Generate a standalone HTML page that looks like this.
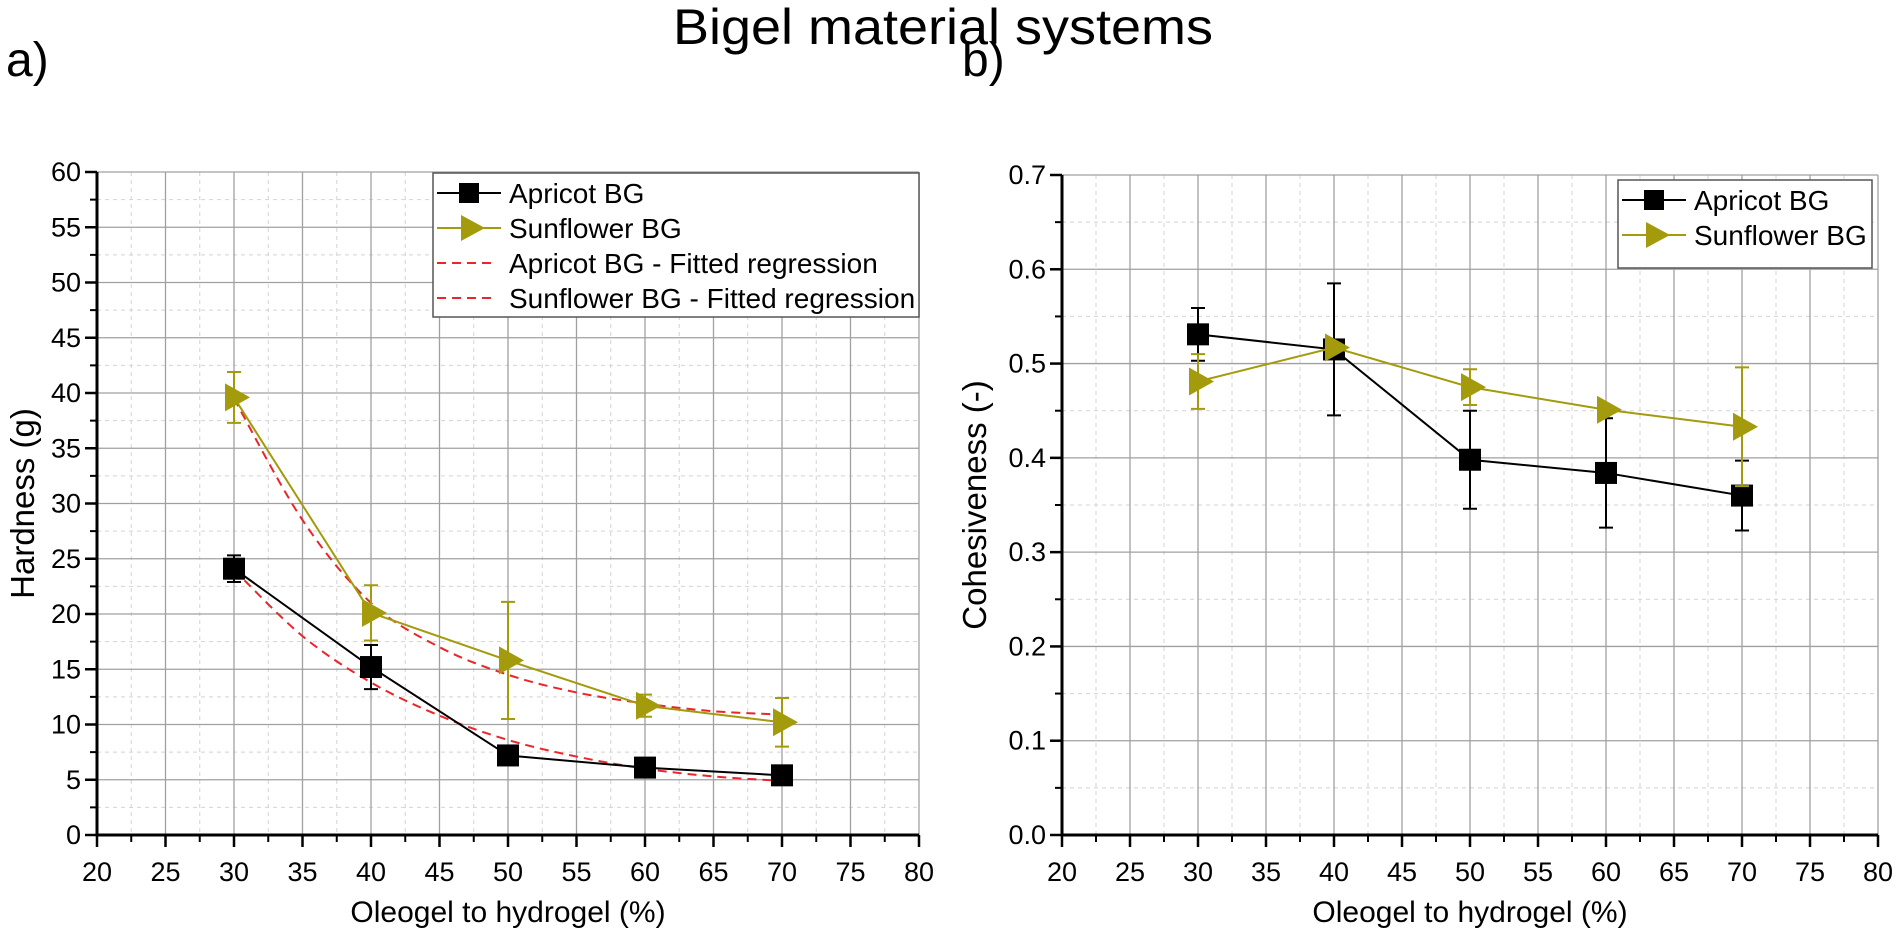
<!DOCTYPE html>
<html><head><meta charset="utf-8"><style>
html,body{margin:0;padding:0;background:#fff;}
svg{display:block;font-family:"Liberation Sans",Arial,sans-serif;}
</style></head><body>
<svg id="fig" width="1902" height="944" viewBox="0 0 1902 944">
<text x="943" y="44" font-size="50" text-anchor="middle" textLength="540" lengthAdjust="spacingAndGlyphs">Bigel material systems</text>
<text x="6" y="76" font-size="48">a)</text>
<text x="962" y="76" font-size="48">b)</text>
<g id="pa"></g>
<g id="pb"></g>
</svg>
<script>
const xCats=[30,40,50,60,70];
const xTicks=[20,25,30,35,40,45,50,55,60,65,70,75,80];
const hardTicks=[0,5,10,15,20,25,30,35,40,45,50,55,60];
const hardApricot=[24.1,15.2,7.2,6.1,5.4];
const hardApricotErr=[1.2,2.0,0.4,0.8,0.5];
const hardSunflower=[39.6,20.1,15.8,11.7,10.2];
const hardSunflowerErr=[2.3,2.5,5.3,1.0,2.2];
const fitX=[30,35,40,45,50,55,60,65,70];
const fitApricot=[24.0,18.0,13.8,10.8,8.6,7.1,6.0,5.3,4.9];
const fitSunflower=[39.5,28.5,21.0,17.0,14.5,12.9,11.9,11.2,10.9];
const cohTicks=[0.0,0.1,0.2,0.3,0.4,0.5,0.6,0.7];
const cohTickLabels=["0.0","0.1","0.2","0.3","0.4","0.5","0.6","0.7"];
const cohApricot=[0.531,0.515,0.398,0.384,0.360];
const cohApricotErr=[0.028,0.070,0.052,0.058,0.037];
const cohSunflower=[0.481,0.517,0.475,0.451,0.433];
const cohSunflowerErr=[0.029,0.004,0.019,0.004,0.063];

const NS="http://www.w3.org/2000/svg";
const OLIVE="#a39a0c";
function mk(p,tag,at){const e=document.createElementNS(NS,tag);for(const k in at)e.setAttribute(k,at[k]);p.appendChild(e);return e;}
function smooth(pts){let d="M"+pts[0][0]+","+pts[0][1];for(let i=0;i<pts.length-1;i++){const p0=pts[i-1]||pts[i],p1=pts[i],p2=pts[i+1],p3=pts[i+2]||p2;d+=" C"+(p1[0]+(p2[0]-p0[0])/6)+","+(p1[1]+(p2[1]-p0[1])/6)+" "+(p2[0]-(p3[0]-p1[0])/6)+","+(p2[1]-(p3[1]-p1[1])/6)+" "+p2[0]+","+p2[1];}return d;}

function panel(g,o){
  const X=v=>o.x0+(v-20)/60*(o.x1-o.x0);
  const Y=v=>o.y0-(v-o.ymin)/(o.ymax-o.ymin)*(o.y0-o.y1);
  for(let i=0;i<xTicks.length-1;i++){const v=(xTicks[i]+xTicks[i+1])/2;const l=mk(g,"line",{x1:X(v),x2:X(v),y1:o.y1,y2:o.y0,stroke:"#d4d4d4","stroke-width":1,"stroke-dasharray":"4,4"});}
  for(let i=0;i<o.yt.length-1;i++){const v=(o.yt[i]+o.yt[i+1])/2;const l=mk(g,"line",{x1:o.x0,x2:o.x1,y1:Y(v),y2:Y(v),stroke:"#d4d4d4","stroke-width":1,"stroke-dasharray":"4,4"});}
  xTicks.forEach((v,i)=>{if(i>0){const l=mk(g,"line",{x1:X(v),x2:X(v),y1:o.y1,y2:o.y0,stroke:"#a0a0a0","stroke-width":1.3});}
    const t=mk(g,"line",{x1:X(v),x2:X(v),y1:o.y0,y2:o.y0+12,stroke:"#000","stroke-width":2.5});
    if(i<xTicks.length-1){const m=mk(g,"line",{x1:X(v+2.5),x2:X(v+2.5),y1:o.y0,y2:o.y0+7,stroke:"#000","stroke-width":2});}
    const tx=mk(g,"text",{x:X(v),y:o.y0+46,"font-size":27,"text-anchor":"middle"});tx.textContent=v;});
  o.yt.forEach((v,i)=>{if(i>0){const l=mk(g,"line",{x1:o.x0,x2:o.x1,y1:Y(v),y2:Y(v),stroke:"#a0a0a0","stroke-width":1.3});}
    const t=mk(g,"line",{x1:o.x0-12,x2:o.x0,y1:Y(v),y2:Y(v),stroke:"#000","stroke-width":2.5});
    if(i<o.yt.length-1){const v2=(v+o.yt[i+1])/2;const m=mk(g,"line",{x1:o.x0-7,x2:o.x0,y1:Y(v2),y2:Y(v2),stroke:"#000","stroke-width":2});}
    const tx=mk(g,"text",{x:o.x0-16,y:Y(v)+9,"font-size":27,"text-anchor":"end"});tx.textContent=o.yl[i];});
  const ax=mk(g,"path",{d:"M"+o.x0+","+o.y1+"V"+o.y0+"H"+o.x1,fill:"none",stroke:"#000","stroke-width":3});
  const xt=mk(g,"text",{x:(o.x0+o.x1)/2,y:922,"font-size":30,"text-anchor":"middle"});xt.textContent="Oleogel to hydrogel (%)";
  const yt=mk(g,"text",{x:0,y:0,"font-size":33,"text-anchor":"middle",transform:"translate("+o.ytx+","+((o.y0+o.y1)/2)+") rotate(-90)"});yt.textContent=o.ytitle;
  (o.fits||[]).forEach(f=>{const p=mk(g,"path",{d:smooth(fitX.map((x,i)=>[X(x),Y(f[i])])),fill:"none",stroke:"#e8262b","stroke-width":2,"stroke-dasharray":"9,6"});});
  o.series.forEach(s=>{
    const sg=mk(g,"g",{});
    const ln=mk(sg,"polyline",{points:xCats.map((x,i)=>X(x)+","+Y(s.v[i])).join(" "),fill:"none",stroke:s.c,"stroke-width":2});
    xCats.forEach((x,i)=>{const cx=X(x),cy=Y(s.v[i]),t=Y(s.v[i]+s.e[i]),b=Y(s.v[i]-s.e[i]);
      const eb=mk(sg,"path",{d:"M"+cx+","+t+"V"+b+"M"+(cx-7)+","+t+"H"+(cx+7)+"M"+(cx-7)+","+b+"H"+(cx+7),stroke:s.c,"stroke-width":2,fill:"none"});
      let m;if(s.sq){m=mk(sg,"rect",{x:cx-11,y:cy-11,width:22,height:22,fill:"#000"});}else{m=mk(sg,"polygon",{points:(cx-9)+","+(cy-14)+" "+(cx+16)+","+cy+" "+(cx-9)+","+(cy+14),fill:OLIVE});}
      });
  });
  const L=o.leg;const lg=mk(g,"g",{});
  const bx=mk(lg,"rect",{x:L.x,y:L.y,width:L.w,height:L.h,fill:"#fff",stroke:"#555","stroke-width":1.5});
  L.items.forEach((it,i)=>{const cy=L.y+20+i*35,x=L.x+4;const eg=mk(lg,"g",{});
    if(it.t==="sq"){mk(eg,"line",{x1:x,x2:x+64,y1:cy,y2:cy,stroke:"#000","stroke-width":2});mk(eg,"rect",{x:x+22,y:cy-10,width:20,height:20,fill:"#000"});}
    else if(it.t==="tri"){mk(eg,"line",{x1:x,x2:x+64,y1:cy,y2:cy,stroke:OLIVE,"stroke-width":2});mk(eg,"polygon",{points:(x+24)+","+(cy-13)+" "+(x+48)+","+cy+" "+(x+24)+","+(cy+13),fill:OLIVE});}
    else{mk(eg,"line",{x1:x,x2:x+58,y1:cy,y2:cy,stroke:"#e8262b","stroke-width":2,"stroke-dasharray":"9,6"});}
    const tx=mk(eg,"text",{x:x+72,y:cy+10,"font-size":28});tx.textContent=it.label;});
}
panel(document.getElementById("pa"),{x0:97,x1:919,y0:835,y1:172,ymin:0,ymax:60,yt:hardTicks,yl:hardTicks,ytitle:"Hardness (g)",ytx:34,
  fits:[fitApricot,fitSunflower],
  series:[{name:"apricot-series",v:hardApricot,e:hardApricotErr,c:"#000",sq:true},{name:"sunflower-series",v:hardSunflower,e:hardSunflowerErr,c:OLIVE,sq:false}],
  leg:{x:433,y:173,w:486,h:144,items:[{t:"sq",label:"Apricot BG"},{t:"tri",label:"Sunflower BG"},{t:"d",label:"Apricot BG - Fitted regression"},{t:"d",label:"Sunflower BG - Fitted regression"}]}});
panel(document.getElementById("pb"),{x0:1062,x1:1878,y0:835,y1:175,ymin:0,ymax:0.7,yt:cohTicks,yl:cohTickLabels,ytitle:"Cohesiveness (-)",ytx:986,
  series:[{name:"apricot-series",v:cohApricot,e:cohApricotErr,c:"#000",sq:true},{name:"sunflower-series",v:cohSunflower,e:cohSunflowerErr,c:OLIVE,sq:false}],
  leg:{x:1618,y:180,w:254,h:88,items:[{t:"sq",label:"Apricot BG"},{t:"tri",label:"Sunflower BG"}]}});
</script>
</body></html>
